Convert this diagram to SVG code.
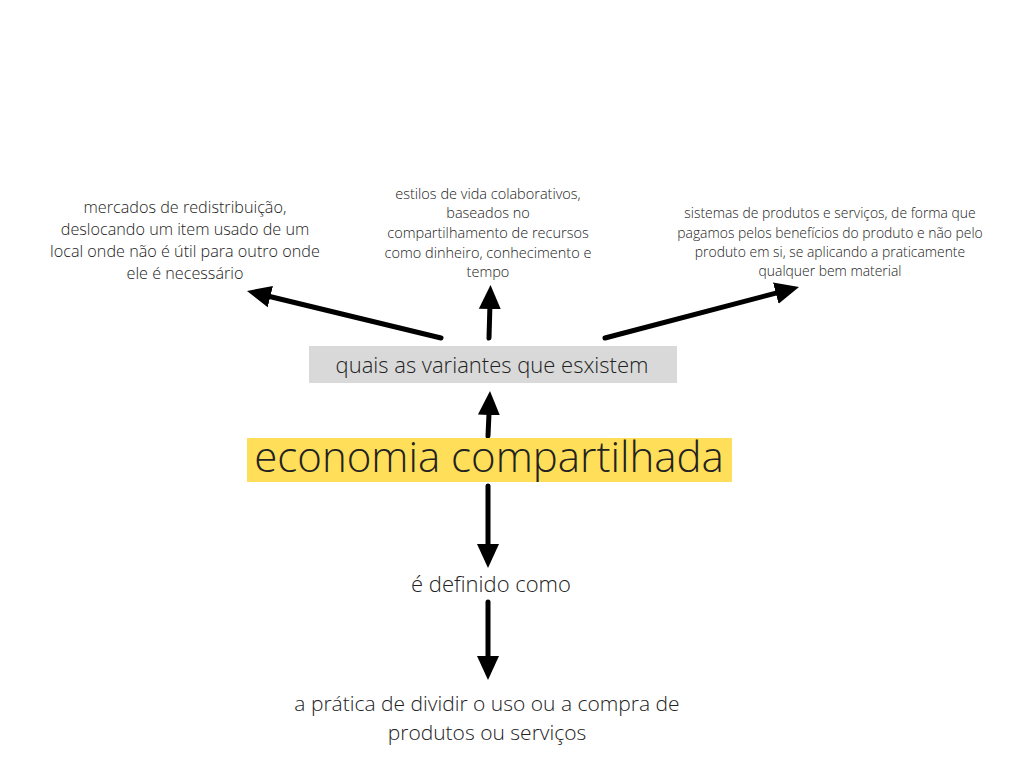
<svg xmlns="http://www.w3.org/2000/svg" width="1024" height="768" viewBox="0 0 1024 768">
<style>
text{font-family:"Open Sans","Noto Sans","Liberation Sans",sans-serif;font-weight:300;fill:#222;text-anchor:middle}
.c{stroke:#000;stroke-width:5;fill:none;stroke-linecap:round}
</style>
<defs>
<marker id="ah" markerUnits="userSpaceOnUse" markerWidth="26" markerHeight="24" viewBox="0 0 26 24" refX="6" refY="12" orient="auto">
<path d="M0,1 L24,12 L0,23 Z" fill="#000"/>
</marker>
</defs>
<rect width="1024" height="768" fill="#fff"/>
<g id="connectors">
<path class="c" d="M441,338 L264.5,295.2" marker-end="url(#ah)"/>
<path class="c" d="M489,338 L490,303" marker-end="url(#ah)"/>
<path class="c" d="M605,338 L781.6,291.6" marker-end="url(#ah)"/>
<path class="c" d="M488,436 L489.2,409" marker-end="url(#ah)"/>
<path class="c" d="M488,486 L488,550" marker-end="url(#ah)"/>
<path class="c" d="M488,602 L488,662" marker-end="url(#ah)"/>
</g>
<g id="node-variantes">
<rect x="309" y="346" width="368" height="37" fill="#d9d9d9"/>
<text x="492" y="373" font-size="22">quais as variantes que esxistem</text>
</g>
<g id="node-economia">
<rect x="247" y="438" width="485" height="44" fill="#ffde59"/>
<text x="489" y="472" font-size="42">economia compartilhada</text>
</g>
<g id="node-definido">
<text x="491" y="592" font-size="22">é definido como</text>
</g>
<g id="node-definicao">
<text x="487" y="711" font-size="21">a prática de dividir o uso ou a compra de</text>
<text x="487" y="740" font-size="21">produtos ou serviços</text>
</g>
<g id="node-redistribuicao" font-size="16.2">
<text x="185" y="213">mercados de redistribuição,</text>
<text x="185" y="235">deslocando um item usado de um</text>
<text x="185" y="257">local onde não é útil para outro onde</text>
<text x="185" y="279">ele é necessário</text>
</g>
<g id="node-estilos" font-size="14.5">
<text x="488" y="199">estilos de vida colaborativos,</text>
<text x="488" y="218">baseados no</text>
<text x="488" y="238">compartilhamento de recursos</text>
<text x="488" y="258">como dinheiro, conhecimento e</text>
<text x="488" y="277">tempo</text>
</g>
<g id="node-sistemas" font-size="13.9">
<text x="830" y="218">sistemas de produtos e serviços, de forma que</text>
<text x="830" y="238">pagamos pelos benefícios do produto e não pelo</text>
<text x="830" y="257">produto em si, se aplicando a praticamente</text>
<text x="830" y="276">qualquer bem material</text>
</g>
</svg>
